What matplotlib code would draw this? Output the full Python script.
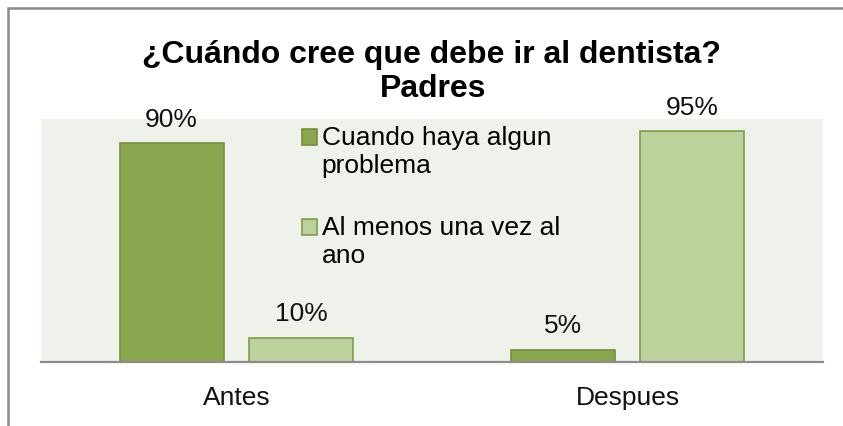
import matplotlib.pyplot as plt
import matplotlib.patches as mpatches
from matplotlib.legend_handler import HandlerPatch
import numpy as np

plt.rcParams['font.family'] = ['Liberation Sans', 'DejaVu Sans']

# Survey answers (share of parents), before and after
periods = ["Antes", "Despues"]
series_names = ["Cuando haya algun\nproblema", "Al menos una vez al\nano"]
cuando_problema = [0.90, 0.05]
una_vez_al_ano = [0.10, 0.95]

DARK_FILL, DARK_EDGE = "#8AA64F", "#74903D"
LIGHT_FILL, LIGHT_EDGE = "#BCD19B", "#7F9D49"
PLOT_BG = "#EFF2EA"

W, H = 843, 427
fig = plt.figure(figsize=(W / 100, H / 100), dpi=100)

# plot area in pixel terms
left, top, right, bottom = 41, 120, 823, 363
ax = fig.add_axes([left / W, 1 - bottom / H, (right - left) / W, (bottom - top) / H])
ax.set_facecolor(PLOT_BG)

x = np.arange(len(periods))
width = 0.266
offset = 0.166
b1 = ax.bar(x - offset, cuando_problema, width, color=DARK_FILL, edgecolor=DARK_EDGE,
            linewidth=1.2)
b2 = ax.bar(x + offset, una_vez_al_ano, width, color=LIGHT_FILL, edgecolor=LIGHT_EDGE,
            linewidth=1.2)

for bars, vals in ((b1, cuando_problema), (b2, una_vez_al_ano)):
    for rect, v in zip(bars, vals):
        ax.annotate(f"{v:.0%}", (rect.get_x() + rect.get_width() / 2, v),
                    xytext=(0, 17.6), textcoords="offset points",
                    ha="center", va="center", fontsize=19, color="#111111")

ax.set_xlim(-0.5, 1.5)
ax.set_ylim(0, 1.0)
ax.set_xticks(x)
ax.set_xticklabels(periods, fontsize=19, color="#111111")
ax.tick_params(axis="x", length=0, pad=16.5)
ax.set_yticks([])
for side in ("left", "right", "top"):
    ax.spines[side].set_visible(False)
ax.spines["bottom"].set_color("#8C8C8C")
ax.spines["bottom"].set_linewidth(1.6)


# legend squares sit next to the first line of each wrapped label
def top_square(legend, orig_handle, xdescent, ydescent, width, height, fontsize):
    return mpatches.Rectangle((-xdescent, -ydescent + 0.55 * fontsize), width, height)


h1 = mpatches.Patch(facecolor=DARK_FILL, edgecolor=DARK_EDGE, linewidth=1.2)
h2 = mpatches.Patch(facecolor=LIGHT_FILL, edgecolor=LIGHT_EDGE, linewidth=1.2)
handler = HandlerPatch(patch_func=top_square)
leg = fig.legend(handles=[h1, h2], labels=series_names,
                 handler_map={mpatches.Patch: handler},
                 loc="upper left", bbox_to_anchor=(302 / W, 1 - 126 / H),
                 frameon=False, fontsize=19, handlelength=0.55, handleheight=0.55,
                 handletextpad=0.2, labelspacing=1.45, borderpad=0, borderaxespad=0)

fig.text(432 / W, 1 - 55 / H, "¿Cuándo cree que debe ir al dentista?",
         ha="center", va="center", fontsize=23, fontweight="bold")
fig.text(433 / W, 1 - 89 / H, "Padres",
         ha="center", va="center", fontsize=23, fontweight="bold")

# chart frame (only left and top edges fall inside the image)
frame = mpatches.Rectangle((8 / W, -0.2), 1.2, 1.2 - 9 / H, transform=fig.transFigure,
                           fill=False, edgecolor="#8C8C8C", linewidth=1.8, clip_on=False)
fig.add_artist(frame)

fig.savefig("out.png", dpi=100)
